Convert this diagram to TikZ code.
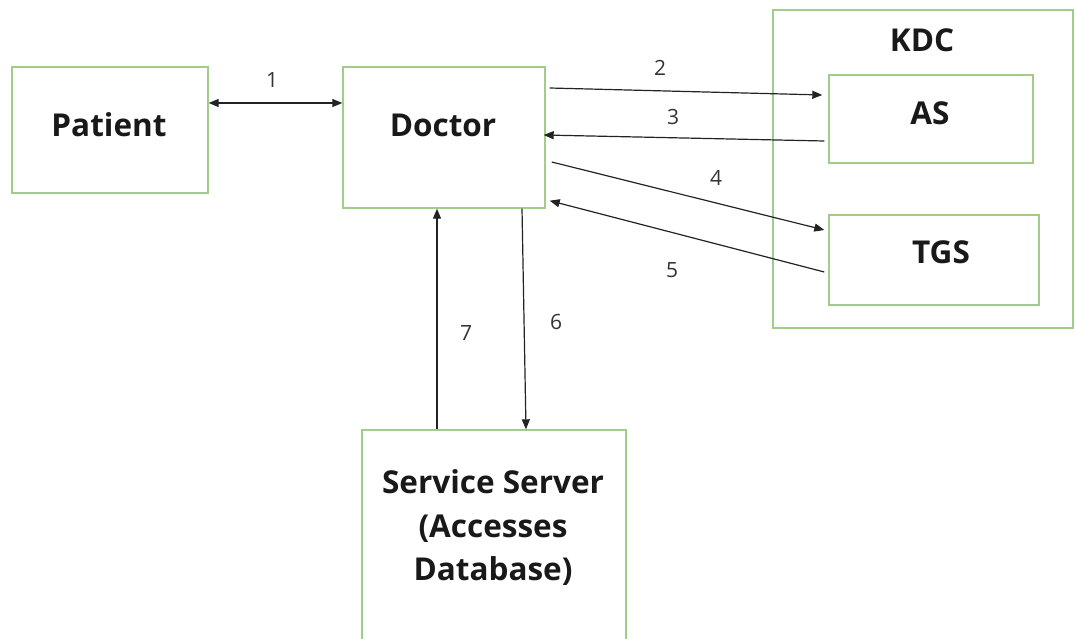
\documentclass[tikz,border=0pt]{standalone}
\usepackage{fontspec}
\setmainfont{Open Sans}
\usetikzlibrary{arrows.meta}

\definecolor{boxgreen}{RGB}{160,204,140}
\definecolor{linkgray}{RGB}{35,35,35}

\tikzset{
  box/.style={draw=boxgreen, line width=1.4pt, rectangle, inner sep=0pt},
  title/.style={font=\fontsize{31.5}{43.5}\selectfont\bfseries, text=black!90, align=center, inner sep=0pt},
  num/.style={font=\fontsize{21}{24}\selectfont, text=black!80, inner sep=0pt},
  link/.style={draw=linkgray, line width=1.2pt, -{Triangle[length=10pt,width=8pt]}},
  twoway/.style={draw=linkgray, line width=1.2pt, {Triangle[length=10pt,width=8pt]}-{Triangle[length=10pt,width=8pt]}}
}

\begin{document}
\begin{tikzpicture}[x=1pt, y=1pt]
  \clip (0,0) rectangle (1075,638);
  \fill[white] (0,0) rectangle (1075,638);

  % boxes
  \node[box, minimum width=196pt, minimum height=126pt] (patient) at (110,508) {};
  \node[box, minimum width=202pt, minimum height=141pt] (doctor) at (444,500.5) {};
  \node[box, minimum width=300pt, minimum height=318pt] (kdc) at (923,469) {};
  \node[box, minimum width=204pt, minimum height=88pt] (as) at (931,519) {};
  \node[box, minimum width=210pt, minimum height=90pt] (tgs) at (934,378) {};
  \node[box, minimum width=264pt, minimum height=260pt] (server) at (494,78) {};

  % box titles
  \node[title] (patientlbl) at (109,513) {Patient};
  \node[title] (doctorlbl) at (443,513) {Doctor};
  \node[title] (kdclbl) at (922,598) {KDC};
  \node[title] (aslbl) at (930,525) {AS};
  \node[title] (tgslbl) at (941,386) {TGS};
  \node[title] (serverlbl) at (493,110) {Service Server\\(Accesses\\Database)};

  % message flow
  \draw[twoway] ([yshift=27pt]patient.east) -- ([yshift=34.5pt]doctor.west);
  \draw[link] ([xshift=4pt,yshift=49.5pt]doctor.east) -- ([xshift=-6pt,yshift=24pt]as.west);
  \draw[link] ([xshift=-4pt,yshift=-22pt]as.west) -- ([xshift=-2pt,yshift=2.5pt]doctor.east);
  \draw[link] ([xshift=6pt,yshift=-24.5pt]doctor.east) -- ([xshift=-4pt,yshift=30pt]tgs.west);
  \draw[link] ([xshift=-4pt,yshift=-12pt]tgs.west) -- ([xshift=4pt,yshift=8pt]doctor.south east);
  \draw[link] ([xshift=78pt]doctor.south) -- ([xshift=32pt]server.north);
  \draw[link] ([xshift=-57pt]server.north) -- ([xshift=-7pt]doctor.south);

  % step numbers
  \node[num] (n1) at (272,558) {1};
  \node[num] (n2) at (660,570) {2};
  \node[num] (n3) at (673,521) {3};
  \node[num] (n4) at (716,460) {4};
  \node[num] (n5) at (672,368) {5};
  \node[num] (n6) at (556,316) {6};
  \node[num] (n7) at (466,305) {7};
\end{tikzpicture}
\end{document}
